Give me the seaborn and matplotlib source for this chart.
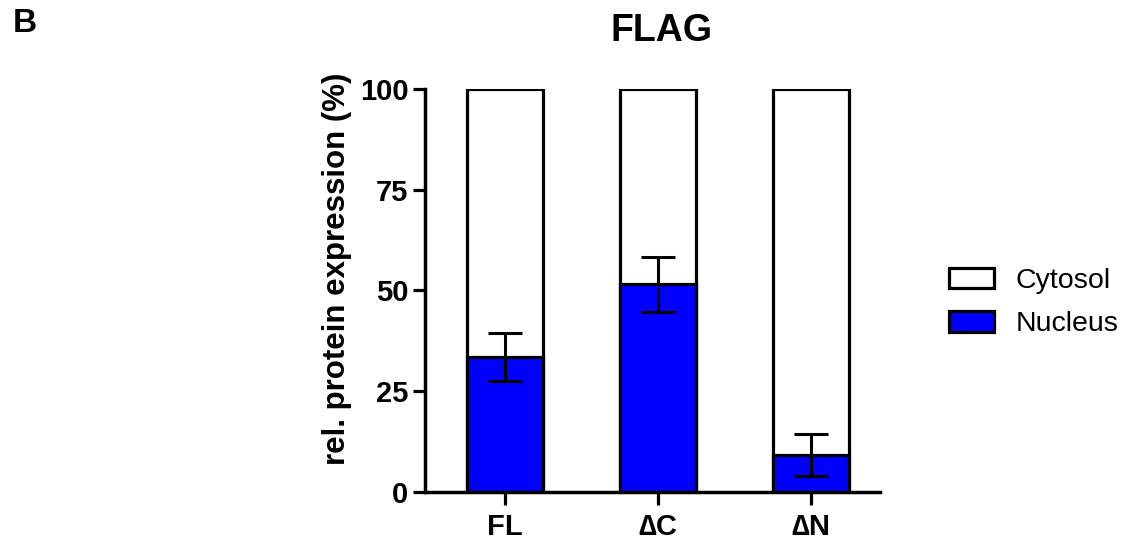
import matplotlib
matplotlib.use("Agg")
import matplotlib.pyplot as plt
import seaborn as sns
import pandas as pd
from matplotlib.patches import Patch

categories = ["FL", "\u2206C", "\u2206N"]
nucleus = [33.5, 51.5, 9.2]
nucleus_sem = [6.0, 6.8, 5.2]
cytosol_total = [100, 100, 100]
series_names = ["Cytosol", "Nucleus"]

sns.set_theme(style="ticks")
plt.rcParams['font.family'] = ['Liberation Sans', 'DejaVu Sans']
plt.rcParams['text.color'] = 'black'
plt.rcParams['axes.labelcolor'] = 'black'

df = pd.DataFrame({"cat": categories, "nuc": nucleus, "tot": cytosol_total})

fig = plt.figure(figsize=(11.37, 5.42), dpi=100)
ax = fig.add_axes([0.374, 0.0923, 0.400, 0.7435])

lw = 2.3
sns.barplot(data=df, x="cat", y="tot", color="white", edgecolor="black",
            linewidth=lw, width=0.5, ax=ax, saturation=1)
sns.barplot(data=df, x="cat", y="nuc", color="#0000FF", edgecolor="black",
            linewidth=lw, width=0.5, ax=ax, saturation=1)
ax.errorbar(range(len(categories)), nucleus, yerr=nucleus_sem, fmt="none",
            ecolor="black", elinewidth=2.2, capsize=12, capthick=2.2, zorder=5)

ax.set_ylim(0, 100)
ax.set_xlim(-0.52, 2.45)
ax.set_yticks([0, 25, 50, 75, 100])
ax.set_xlabel("")
ax.set_ylabel("rel. protein expression (%)", fontsize=22.5, fontweight="bold")
ax.yaxis.set_label_coords(-0.16, 0.555)
for lab in ax.get_yticklabels() + ax.get_xticklabels():
    lab.set_fontweight("bold")
    lab.set_fontsize(21)
    lab.set_color("black")
ax.tick_params(axis="both", length=9, width=2.3, direction="out", colors="black")
ax.tick_params(axis="x", pad=6)
ax.tick_params(axis="y", pad=3)
for s in ["top", "right"]:
    ax.spines[s].set_visible(False)
for s in ["left", "bottom"]:
    ax.spines[s].set_linewidth(2.5)
    ax.spines[s].set_color("black")

fig.text(0.582, 0.909, "FLAG", ha="center", va="bottom", fontsize=27,
         fontweight="bold", color="black")
fig.text(0.011, 0.928, "B", ha="left", va="bottom", fontsize=24,
         fontweight="bold", color="black")

handles = [Patch(facecolor="white", edgecolor="black", linewidth=2.3, label=series_names[0]),
           Patch(facecolor="#0000FF", edgecolor="black", linewidth=2.3, label=series_names[1])]
fig.legend(handles=handles, loc="center left", bbox_to_anchor=(0.812, 0.442),
           frameon=False, fontsize=20.5, handlelength=1.6, handleheight=0.75,
           labelspacing=0.6, handletextpad=0.75)

fig.savefig("out.png", dpi=100)
